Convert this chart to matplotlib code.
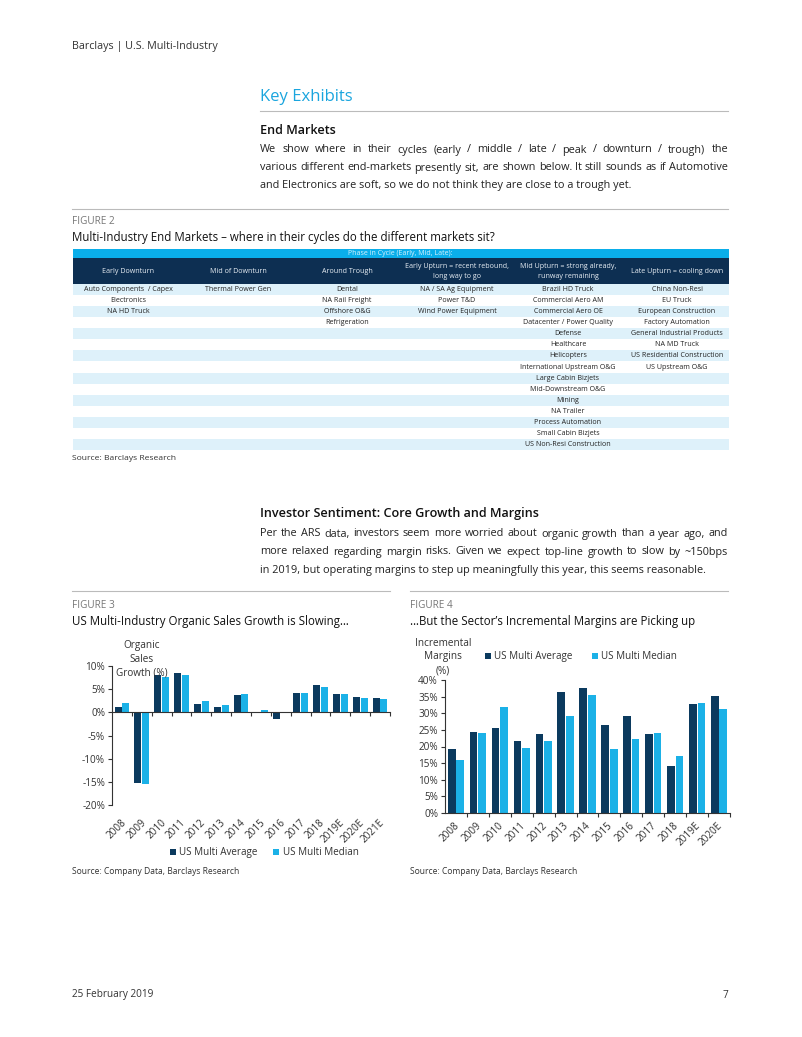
import matplotlib
matplotlib.use("Agg")
import matplotlib.pyplot as plt
import numpy as np

plt.rcParams['font.family'] = ['Open Sans', 'DejaVu Sans']

W, H = 802, 1037
NAVY = '#0B3A5E'
CYAN = '#1BB1E7'
HDR_NAVY = '#0D2F52'
HDR_CYAN = '#0AAEEA'
STRIPE = '#DEF1FA'
TXT = '#222222'
RULE = '#BBBBBB'

# ---------------- data ----------------
years3 = ['2008', '2009', '2010', '2011', '2012', '2013', '2014', '2015', '2016',
          '2017', '2018', '2019E', '2020E', '2021E']
growth_avg = [1.2, -15.2, 8.1, 8.4, 1.9, 1.1, 3.7, -0.1, -1.5, 4.1, 5.8, 3.9, 3.3, 3.0]
growth_med = [2.0, -15.4, 7.7, 8.0, 2.4, 1.5, 3.9, 0.6, -0.2, 4.1, 5.4, 3.9, 3.1, 2.8]

years4 = ['2008', '2009', '2010', '2011', '2012', '2013', '2014', '2015', '2016',
          '2017', '2018', '2019E', '2020E']
margin_avg = [19.2, 24.5, 25.6, 21.7, 23.9, 36.5, 37.5, 26.5, 29.1, 23.9, 14.2, 32.7, 35.3]
margin_med = [15.9, 24.1, 31.8, 19.6, 21.7, 29.3, 35.4, 19.1, 22.3, 24.2, 17.0, 33.0, 31.2]

phase_headers = ['Early Downturn', 'Mid of Downturn', 'Around Trough',
                 'Early Upturn = recent rebound,\nlong way to go',
                 'Mid Upturn = strong already,\nrunway remaining',
                 'Late Upturn = cooling down']
early_downturn = ['Auto Components  / Capex', 'Electronics', 'NA HD Truck']
mid_downturn = ['Thermal Power Gen']
around_trough = ['Dental', 'NA Rail Freight', 'Offshore O&G', 'Refrigeration']
early_upturn = ['NA / SA Ag Equipment', 'Power T&D', 'Wind Power Equipment']
mid_upturn = ['Brazil HD Truck', 'Commercial Aero AM', 'Commercial Aero OE',
              'Datacenter / Power Quality', 'Defense', 'Healthcare', 'Helicopters',
              'International Upstream O&G', 'Large Cabin Bizjets', 'Mid-Downstream O&G',
              'Mining', 'NA Trailer', 'Process Automation', 'Small Cabin Bizjets',
              'US Non-Resi Construction']
late_upturn = ['China Non-Resi', 'EU Truck', 'European Construction', 'Factory Automation',
               'General Industrial Products', 'NA MD Truck', 'US Residential Construction',
               'US Upstream O&G']

fig = plt.figure(figsize=(W / 100, H / 100), dpi=100)
fig.patch.set_facecolor('white')


def fx(x):
    return x / W


def fy(y):
    return 1 - y / H


def T(x, y, s, **kw):
    kw.setdefault('va', 'center')
    kw.setdefault('color', TXT)
    return fig.text(fx(x), fy(y), s, **kw)


def rule(x0, x1, y, color=RULE, lw=0.8):
    fig.add_artist(plt.Line2D([fx(x0), fx(x1)], [fy(y), fy(y)], color=color, lw=lw,
                              transform=fig.transFigure))


renderer = fig.canvas.get_renderer()


def justify(lines, x0, x1, y0, dy, size, color=TXT):
    for i, line in enumerate(lines):
        y = y0 + i * dy
        if i == len(lines) - 1:
            T(x0, y, line, fontsize=size, color=color)
            continue
        words = line.split(' ')
        arts = [T(x0, y, w, fontsize=size, color=color) for w in words]
        widths = [a.get_window_extent(renderer).width for a in arts]
        gap = (x1 - x0 - sum(widths)) / (len(words) - 1)
        x = x0
        for a, wd in zip(arts, widths):
            a.set_x(fx(x))
            x += wd + gap


BODY = 7.83
TITLE = 8.3
# ---------------- page text ----------------
T(72, 47, 'Barclays | U.S. Multi-Industry', fontsize=7.75, color='#333333')
T(260, 97, 'Key Exhibits', fontsize=12, color='#1AA5DE')
rule(260, 728, 111)
T(260, 130, 'End Markets', fontsize=9.1, color='#111111', fontweight='semibold')
justify(['We show where in their cycles (early / middle / late / peak / downturn / trough) the',
         'various different end-markets presently sit, are shown below. It still sounds as if Automotive',
         'and Electronics are soft, so we do not think they are close to a trough yet.'],
        260, 728, 150, 18, BODY)
rule(72, 728, 209)
T(72, 222, 'FIGURE 2', fontsize=7.2, color='#777777')
T(72, 238, 'Multi-Industry End Markets \u2013 where in their cycles do the different markets sit?',
  fontsize=TITLE, color='#111111')
T(72, 458, 'Source: Barclays Research', fontsize=6.1, color='#333333')

T(260, 514, 'Investor Sentiment: Core Growth and Margins', fontsize=9.1, color='#111111',
  fontweight='semibold')
justify(['Per the ARS data, investors seem more worried about organic growth than a year ago, and',
         'more relaxed regarding margin risks. Given we expect top-line growth to slow by ~150bps',
         'in 2019, but operating margins to step up meaningfully this year, this seems reasonable.'],
        260, 728, 534, 18, BODY)
rule(72, 390, 591)
rule(410, 728, 591)
T(72, 605, 'FIGURE 3', fontsize=7.2, color='#777777')
T(72, 622, 'US Multi-Industry Organic Sales Growth is Slowing\u2026', fontsize=TITLE, color='#111111')
T(410, 605, 'FIGURE 4', fontsize=7.2, color='#777777')
T(410, 622, '\u2026But the Sector\u2019s Incremental Margins are Picking up', fontsize=TITLE,
  color='#111111')
T(72, 872, 'Source: Company Data, Barclays Research', fontsize=6.15, color='#333333')
T(410, 872, 'Source: Company Data, Barclays Research', fontsize=6.15, color='#333333')
T(72, 995, '25 February 2019', fontsize=7.2, color='#333333')
T(728, 995, '7', fontsize=7.2, color='#333333', ha='right')

# ---------------- table ----------------
tx0, tx1 = 73, 729
ty0, ty1 = 249, 450
tax = fig.add_axes([fx(tx0), fy(ty1), (tx1 - tx0) / W, (ty1 - ty0) / H])
tax.set_xlim(tx0, tx1)
tax.set_ylim(ty1, ty0)
tax.axis('off')
row_h = 11.07
body_top = 284.0
columns = [early_downturn, mid_downturn, around_trough, early_upturn, mid_upturn, late_upturn]
col_x = [128, 238, 347, 457, 568, 677]
nrows = max(len(c) for c in columns)
row_y = [body_top + (i + 0.5) * row_h for i in range(nrows)]
stripe_rows = [row_y[i] for i in range(0, nrows, 2)]
tax.barh(stripe_rows, tx1 - tx0, left=tx0, height=row_h, color=STRIPE, lw=0)
tax.barh([253.5], tx1 - tx0, left=tx0, height=9, color=HDR_CYAN, lw=0)
tax.barh([271], tx1 - tx0, left=tx0, height=26, color=HDR_NAVY, lw=0)
tax.text(400, 253.5, 'Phase in Cycle (Early, Mid, Late):', ha='center', va='center',
         fontsize=5.0, color='#D8F1FC')
for cx, h in zip(col_x, phase_headers):
    tax.text(cx, 271.5, h, ha='center', va='center', fontsize=5.1, color='#E8EEF4',
             linespacing=1.75)
for cx, col in zip(col_x, columns):
    for i, item in enumerate(col):
        tax.text(cx, row_y[i], item, ha='center', va='center', fontsize=5.1, color='#222222')


# ---------------- bar charts ----------------
def style_axis(ax):
    for s in ['top', 'right']:
        ax.spines[s].set_visible(False)
    for s in ['left', 'bottom']:
        ax.spines[s].set_color('#333333')
        ax.spines[s].set_linewidth(0.8)
    ax.tick_params(axis='y', labelsize=7.2, colors='#333333', length=3, width=0.8, pad=2)
    ax.yaxis.set_major_formatter(matplotlib.ticker.FuncFormatter(lambda v, p: f'{v:.0f}%'))


def cat_labels(ax, labels, dy_axes, dx_px):
    tr = matplotlib.transforms.blended_transform_factory(ax.transData, ax.transAxes)
    off = matplotlib.transforms.ScaledTranslation(dx_px / 100, 0, fig.dpi_scale_trans)
    for i, lab in enumerate(labels):
        ax.text(i, dy_axes, lab, transform=tr + off, rotation=45, ha='right', va='top',
                rotation_mode='anchor', fontsize=7.2, color='#333333')


bw = 0.35
# Figure 3
a_l, a_r, a_t, a_b = 112, 390, 666, 805
ax3 = fig.add_axes([fx(a_l), fy(a_b), (a_r - a_l) / W, (a_b - a_t) / H])
x3 = np.arange(len(years3))
b1 = ax3.bar(x3 - bw / 2 - 0.02, growth_avg, bw, color=NAVY)
b2 = ax3.bar(x3 + bw / 2 + 0.02, growth_med, bw, color=CYAN)
ax3.set_xlim(-0.5, len(years3) - 0.5)
ax3.set_ylim(-20, 10)
ax3.set_yticks(np.arange(-20, 11, 5))
style_axis(ax3)
ax3.spines['bottom'].set_position(('data', 0))
ax3.set_xticks(x3 + 0.5)
ax3.set_xticklabels([])
ax3.tick_params(axis='x', length=3, width=0.8, colors='#333333', direction='out')
cat_labels(ax3, years3, -0.086, -1)
ax3.text(0.108, 1.05, 'Organic\nSales\nGrowth (%)', transform=ax3.transAxes, ha='center',
         va='center', fontsize=7.2, color='#333333', linespacing=1.35)
leg = ax3.legend([b1, b2], ['US Multi Average', 'US Multi Median'], loc='center',
                 bbox_to_anchor=(0.547, -0.345), ncol=2, frameon=False, fontsize=7.1,
                 handlelength=0.6, handleheight=0.6, handletextpad=0.35, columnspacing=1.6)
for t in leg.get_texts():
    t.set_color('#333333')

# Figure 4
a_l, a_r, a_t, a_b = 445, 730, 680, 813
ax4 = fig.add_axes([fx(a_l), fy(a_b), (a_r - a_l) / W, (a_b - a_t) / H])
x4 = np.arange(len(years4))
c1 = ax4.bar(x4 - bw / 2 - 0.02, margin_avg, bw, color=NAVY)
c2 = ax4.bar(x4 + bw / 2 + 0.02, margin_med, bw, color=CYAN)
ax4.set_xlim(-0.5, len(years4) - 0.5)
ax4.set_ylim(0, 40)
ax4.set_yticks(np.arange(0, 41, 5))
style_axis(ax4)
ax4.set_xticks(x4 + 0.5)
ax4.set_xticklabels([])
ax4.tick_params(axis='x', length=3, width=0.8, colors='#333333', direction='out')
cat_labels(ax4, years4, -0.053, -2)
ax4.text(-0.007, 1.173, 'Incremental\nMargins\n(%)', transform=ax4.transAxes, ha='center',
         va='center', fontsize=7.2, color='#333333', linespacing=1.35)
leg = ax4.legend([c1, c2], ['US Multi Average', 'US Multi Median'], loc='center',
                 bbox_to_anchor=(0.477, 1.173), ncol=2, frameon=False, fontsize=7.1,
                 handlelength=0.6, handleheight=0.6, handletextpad=0.35, columnspacing=2.0)
for t in leg.get_texts():
    t.set_color('#333333')

fig.savefig('out.png', dpi=100, facecolor='white')
